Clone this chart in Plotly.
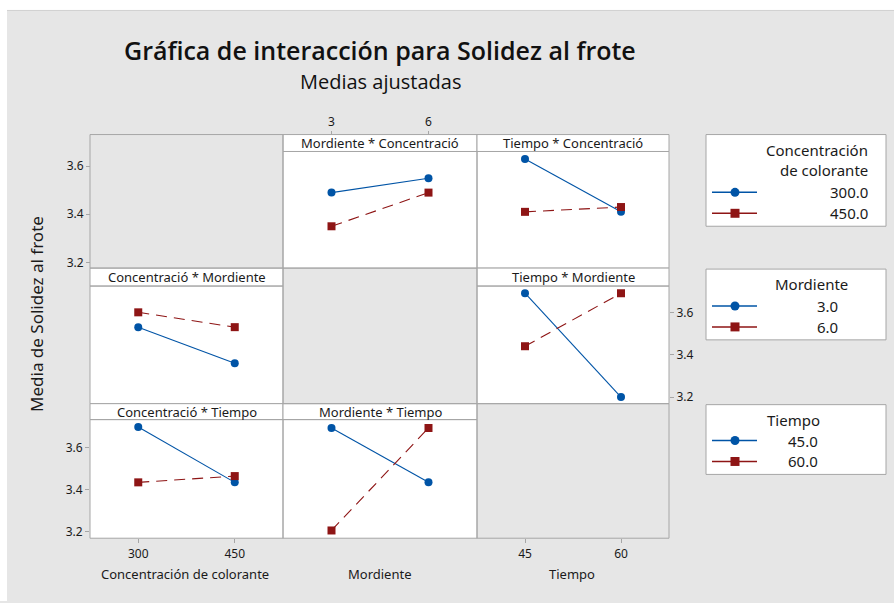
import plotly.graph_objects as go

# ---------------- data ----------------
conc = [300, 450]
mord = [3, 6]
tiempo = [45, 60]

# Mordiente * Concentració (x = Mordiente, series = Concentración)
mc_300 = [3.49, 3.55]
mc_450 = [3.35, 3.49]
# Tiempo * Concentració (x = Tiempo, series = Concentración)
tc_300 = [3.63, 3.41]
tc_450 = [3.41, 3.43]
# Concentració * Mordiente (x = Concentración, series = Mordiente)
cm_3 = [3.53, 3.36]
cm_6 = [3.60, 3.53]
# Tiempo * Mordiente (x = Tiempo, series = Mordiente)
tm_3 = [3.69, 3.20]
tm_6 = [3.44, 3.69]
# Concentració * Tiempo (x = Concentración, series = Tiempo)
ct_45 = [3.70, 3.435]
ct_60 = [3.435, 3.465]
# Mordiente * Tiempo (x = Mordiente, series = Tiempo)
mt_45 = [3.695, 3.435]
mt_60 = [3.205, 3.695]

y_ticks = [3.2, 3.4, 3.6]

# ---------------- styling ----------------
W, H = 894, 603
BG = "#e6e6e6"
BORDER = "#a6a6a6"
BLUE = "#0054A6"
RED = "#8E1515"
TXT = "#1a1a1a"
FONT = "Noto Sans"


def px(x):
    return x / W


def py(y):
    return 1 - y / H


cols = [(90, 283), (283, 477), (477, 669)]
rows = [  # (header top, plot top, plot bottom)
    (135, 152, 269),
    (269, 287, 405),
    (405, 421, 540),
]
xranges = [[225, 525], [1.5, 7.5], [37.5, 67.5]]
yranges = [[3.176, 3.661], [3.169, 3.724], [3.168, 3.735]]

fig = go.Figure()
layout = dict(
    width=W, height=H,
    margin=dict(l=0, r=0, t=0, b=0),
    paper_bgcolor=BG,
    plot_bgcolor="white",
    showlegend=False,
    font=dict(family=FONT, color=TXT, size=12),
)
shapes = []
annotations = []

# white outer frame strips (top, left)
for (a, b, c_, d) in [(0, 894, 0, 10), (0, 7, 0, 603)]:
    shapes.append(dict(type="rect", xref="paper", yref="paper", x0=px(a), x1=px(b),
                       y0=py(d), y1=py(c_), fillcolor="white", line=dict(width=0)))
shapes.append(dict(type="line", xref="paper", yref="paper", x0=px(7), x1=1,
                   y0=py(10.5), y1=py(10.5), line=dict(color="#d2d2d2", width=1)))

panels = [
    # (row, col, title, x data, series list)
    (0, 1, "Mordiente * Concentració", mord, [mc_300, mc_450]),
    (0, 2, "Tiempo * Concentració", tiempo, [tc_300, tc_450]),
    (1, 0, "Concentració * Mordiente", conc, [cm_3, cm_6]),
    (1, 2, "Tiempo * Mordiente", tiempo, [tm_3, tm_6]),
    (2, 0, "Concentració * Tiempo", conc, [ct_45, ct_60]),
    (2, 1, "Mordiente * Tiempo", mord, [mt_45, mt_60]),
]
empty = [(0, 0), (1, 1), (2, 2)]

tickfont = dict(family=FONT, size=12, color=TXT)
for i, (r, c, title, xd, series) in enumerate(panels, start=1):
    xa = "xaxis" if i == 1 else f"xaxis{i}"
    ya = "yaxis" if i == 1 else f"yaxis{i}"
    xs = "x" if i == 1 else f"x{i}"
    ys = "y" if i == 1 else f"y{i}"
    x0, x1 = cols[c]
    ht, pt, pb = rows[r]
    xcfg = dict(domain=[px(x0), px(x1)], range=xranges[c], anchor=ys,
                showgrid=False, zeroline=False, showline=False,
                showticklabels=False, ticks="", fixedrange=True)
    ycfg = dict(domain=[py(pb), py(pt)], range=yranges[r], anchor=xs,
                showgrid=False, zeroline=False, showline=False,
                showticklabels=False, ticks="", fixedrange=True)
    # y tick labels
    if r in (0, 2) and c == (1 if r == 0 else 0):
        ycfg.update(showticklabels=True, ticks="outside", ticklen=4,
                    tickcolor=BORDER, tickvals=y_ticks,
                    ticktext=[f"{v:.1f}" for v in y_ticks], tickfont=tickfont)
        if r == 0:
            ycfg.update(anchor="free", position=px(90))
    if r == 1 and c == 2:
        ycfg.update(showticklabels=True, ticks="outside", ticklen=4,
                    tickcolor=BORDER, tickvals=y_ticks, side="right",
                    ticktext=[f"{v:.1f}" for v in y_ticks], tickfont=tickfont)
    # x tick labels
    if r == 2 and c == 0:
        xcfg.update(showticklabels=True, ticks="outside", ticklen=4,
                    tickcolor=BORDER, tickvals=conc,
                    ticktext=[str(v) for v in conc], tickfont=tickfont)
    if r == 1 and c == 2:
        xcfg.update(showticklabels=True, ticks="outside", ticklen=4,
                    tickcolor=BORDER, tickvals=tiempo, anchor="free",
                    position=py(540),
                    ticktext=[str(v) for v in tiempo], tickfont=tickfont)
    if r == 0 and c == 1:
        xcfg.update(showticklabels=True, ticks="outside", ticklen=4,
                    tickcolor=BORDER, tickvals=mord, side="top",
                    anchor="free", position=py(135),
                    ticktext=[str(v) for v in mord], tickfont=tickfont)
    layout[xa] = xcfg
    layout[ya] = ycfg

    s1, s2 = series
    fig.add_trace(go.Scatter(x=xd, y=s1, xaxis=xs, yaxis=ys, mode="lines+markers",
                             line=dict(color=BLUE, width=1.1),
                             marker=dict(symbol="circle", size=8, color=BLUE),
                             cliponaxis=False))
    fig.add_trace(go.Scatter(x=xd, y=s2, xaxis=xs, yaxis=ys, mode="lines+markers",
                             line=dict(color=RED, width=1.1, dash="11px,7px"),
                             marker=dict(symbol="square", size=8, color=RED),
                             cliponaxis=False))

    # header strip
    shapes.append(dict(type="rect", xref="paper", yref="paper",
                       x0=px(x0), x1=px(x1), y0=py(pt), y1=py(ht),
                       fillcolor="white", line=dict(color=BORDER, width=1)))
    annotations.append(dict(xref="paper", yref="paper", x=px((x0 + x1) / 2),
                            y=py((ht + pt) / 2), text=title, showarrow=False,
                            font=dict(family=FONT, size=13, color=TXT),
                            xanchor="center", yanchor="middle"))
    # panel border
    shapes.append(dict(type="rect", xref="paper", yref="paper",
                       x0=px(x0), x1=px(x1), y0=py(pb), y1=py(pt),
                       line=dict(color=BORDER, width=1), layer="above"))

for (r, c) in empty:
    x0, x1 = cols[c]
    ht, pt, pb = rows[r]
    shapes.append(dict(type="rect", xref="paper", yref="paper",
                       x0=px(x0), x1=px(x1), y0=py(pb), y1=py(ht),
                       line=dict(color=BORDER, width=1)))

# titles
annotations.append(dict(xref="paper", yref="paper", x=px(380), y=py(50),
                        text="Gráfica de interacción para Solidez al frote",
                        showarrow=False, xanchor="center", yanchor="middle",
                        font=dict(family="Open Sans", size=25, color="#111111",
                                  weight=600)))
annotations.append(dict(xref="paper", yref="paper", x=px(380), y=py(82),
                        text="Medias ajustadas", showarrow=False,
                        xanchor="center", yanchor="middle",
                        font=dict(family="Open Sans", size=20, color="#111111",
                                  weight=500)))
# axis titles
for txt, xc in [("Concentración de colorante", 185), ("Mordiente", 380), ("Tiempo", 572)]:
    annotations.append(dict(xref="paper", yref="paper", x=px(xc), y=py(576),
                            text=txt, showarrow=False, xanchor="center",
                            yanchor="middle",
                            font=dict(family=FONT, size=13, color=TXT)))
annotations.append(dict(xref="paper", yref="paper", x=px(37), y=py(315),
                        text="Media de Solidez al frote", showarrow=False,
                        textangle=-90, xanchor="center", yanchor="middle",
                        font=dict(family=FONT, size=17, color=TXT)))

# legends (drawn as boxes)
legends = [
    (135, 227, ["Concentración", "de colorante"], [151, 171], 870, "right",
     ["300.0", "450.0"], [193, 214], 870),
    (270, 341, ["Mordiente"], [285], 811, "center",
     ["3.0", "6.0"], [307, 328], 840),
    (406, 476, ["Tiempo"], [421], 793, "center",
     ["45.0", "60.0"], [442, 463], 820),
]
for top, bot, tlines, tys, tx, tanch, labels, lys, lx in legends:
    shapes.append(dict(type="rect", xref="paper", yref="paper",
                       x0=px(706), x1=px(886), y0=py(bot), y1=py(top),
                       fillcolor="white", line=dict(color=BORDER, width=1)))
    for t, ty in zip(tlines, tys):
        annotations.append(dict(xref="paper", yref="paper", x=px(tx), y=py(ty),
                                text=t, showarrow=False, xanchor=tanch,
                                yanchor="middle",
                                font=dict(family=FONT, size=15, color=TXT)))
    for k, (lab, ly) in enumerate(zip(labels, lys)):
        col = BLUE if k == 0 else RED
        shapes.append(dict(type="line", xref="paper", yref="paper",
                           x0=px(712), x1=px(757), y0=py(ly), y1=py(ly),
                           line=dict(color=col, width=1.5)))
        if k == 0:
            shapes.append(dict(type="circle", xref="paper", yref="paper",
                               x0=px(730.5), x1=px(739.5), y0=py(ly + 4.5),
                               y1=py(ly - 4.5), fillcolor=col,
                               line=dict(color=col, width=0)))
        else:
            shapes.append(dict(type="rect", xref="paper", yref="paper",
                               x0=px(730.5), x1=px(739.5), y0=py(ly + 4.5),
                               y1=py(ly - 4.5), fillcolor=col,
                               line=dict(color=col, width=0)))
        annotations.append(dict(xref="paper", yref="paper", x=px(lx), y=py(ly),
                                text=lab, showarrow=False, xanchor="right",
                                yanchor="middle",
                                font=dict(family=FONT, size=15, color=TXT)))

layout["shapes"] = shapes
layout["annotations"] = annotations
fig.update_layout(**layout)
fig.write_html("out.html", config={"displayModeBar": False})

# remove the default 8px body margin so the figure fills the window exactly
with open("out.html", "r", encoding="utf-8") as f:
    html = f.read()
html = html.replace("<head>", "<head><style>html,body{margin:0;padding:0;overflow:hidden;}</style>", 1)
with open("out.html", "w", encoding="utf-8") as f:
    f.write(html)
